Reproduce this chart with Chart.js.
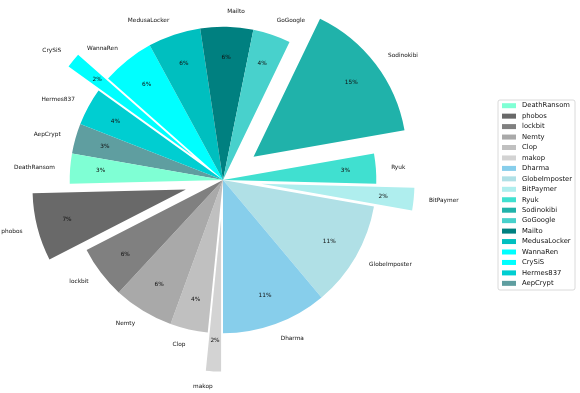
<!DOCTYPE html>
<html>
<head>
<meta charset="utf-8">
<script src="https://cdn.jsdelivr.net/npm/chart.js@4/dist/chart.umd.min.js"></script>
<style>
  html, body { margin: 0; padding: 0; background: #fff; }
  #wrap { width: 580px; height: 393px; }
</style>
</head>
<body>
<div id="wrap"><canvas id="pieChart" width="580" height="393"></canvas></div>
<script>
// ransomware families, in the order of the legend
const families = ['DeathRansom', 'phobos', 'lockbit', 'Nemty', 'Clop', 'makop', 'Dharma',
    'GlobeImposter', 'BitPaymer', 'Ryuk', 'Sodinokibi', 'GoGoogle', 'Mailto',
    'MedusaLocker', 'WannaRen', 'CrySiS', 'Hermes837', 'AepCrypt'];
const counts = [4, 9, 7, 8, 5, 2, 14, 14, 3, 4, 19, 5, 7, 7, 7, 2, 5, 4];
const colors = ['#7fffd4', '#696969', '#808080', '#a9a9a9', '#c0c0c0', '#d3d3d3', '#87ceeb',
    '#b0e0e6', '#afeeee', '#40e0d0', '#20b2aa', '#48d1cc', '#008080',
    '#00bfbf', '#00ffff', '#00ffff', '#00ced1', '#5f9ea0'];
const explode = [0, 0.25, 0, 0, 0, 0.25, 0, 0, 0.25, 0, 0.25, 0, 0, 0, 0, 0.25, 0, 0];

const total = counts.reduce((a, b) => a + b, 0);
const n = families.length;

// chart.js goes clockwise, the original goes the other way round
const rev = arr => arr.slice().reverse();

const FONT = '"DejaVu Sans", sans-serif';

const explodePlugin = {
    id: 'explode',
    beforeDatasetDraw(chart, args) {
        const ctx = chart.ctx;
        args.meta.data.forEach((arc, j) => {
            const i = n - 1 - j;
            const mid = (arc.startAngle + arc.endAngle) / 2;
            const d = explode[i] * arc.outerRadius;
            ctx.save();
            ctx.translate(Math.cos(mid) * d, Math.sin(mid) * d);
            arc.draw(ctx);
            ctx.restore();
        });
        return false;
    },
    afterDraw(chart) {
        const ctx = chart.ctx;
        const arcs = chart.getDatasetMeta(0).data;
        ctx.save();
        ctx.fillStyle = '#111';
        ctx.textBaseline = 'middle';
        ctx.font = '5.8px ' + FONT;
        arcs.forEach((arc, j) => {
            const i = n - 1 - j;
            const mid = (arc.startAngle + arc.endAngle) / 2;
            const r = arc.outerRadius;
            const c = Math.cos(mid), s = Math.sin(mid);
            const cx = arc.x + c * explode[i] * r;
            const cy = arc.y + s * explode[i] * r;
            // name outside
            ctx.textAlign = c > 0 ? 'left' : 'right';
            ctx.fillText(families[i], cx + c * r * 1.1, cy + s * r * 1.1);
            // percentage inside
            ctx.textAlign = 'center';
            const pct = Math.round(counts[i] / total * 100) + '%';
            ctx.fillText(pct, cx + c * r * 0.8, cy + s * r * 0.8);
        });

        // legend box
        const lx = 498, ly = 100, lw = 77, lh = 190;
        ctx.beginPath();
        ctx.roundRect(lx, ly, lw, lh, 2);
        ctx.fillStyle = 'rgba(255,255,255,0.8)';
        ctx.fill();
        ctx.strokeStyle = '#d0d0d0';
        ctx.lineWidth = 0.8;
        ctx.stroke();
        ctx.font = '6.8px ' + FONT;
        ctx.textAlign = 'left';
        families.forEach((name, i) => {
            const y = 105.7 + i * 10.45;
            ctx.fillStyle = colors[i];
            ctx.fillRect(502, y - 2.5, 14, 5);
            ctx.fillStyle = '#111';
            ctx.fillText(name, 522, y);
        });
        ctx.restore();
    }
};

const ctx = document.getElementById('pieChart').getContext('2d');
const pieChart = new Chart(ctx, {
    type: 'pie',
    data: {
        labels: rev(families),
        datasets: [{
            data: rev(counts),
            backgroundColor: rev(colors),
            borderWidth: 0
        }]
    },
    options: {
        responsive: false,
        devicePixelRatio: 1,
        animation: false,
        rotation: 280,
        radius: 153.3,
        layout: {
            padding: { left: 0, right: 134, top: 0, bottom: 33 }
        },
        plugins: {
            legend: { display: false },
            tooltip: { enabled: false }
        }
    },
    plugins: [explodePlugin]
});
</script>
</body>
</html>
